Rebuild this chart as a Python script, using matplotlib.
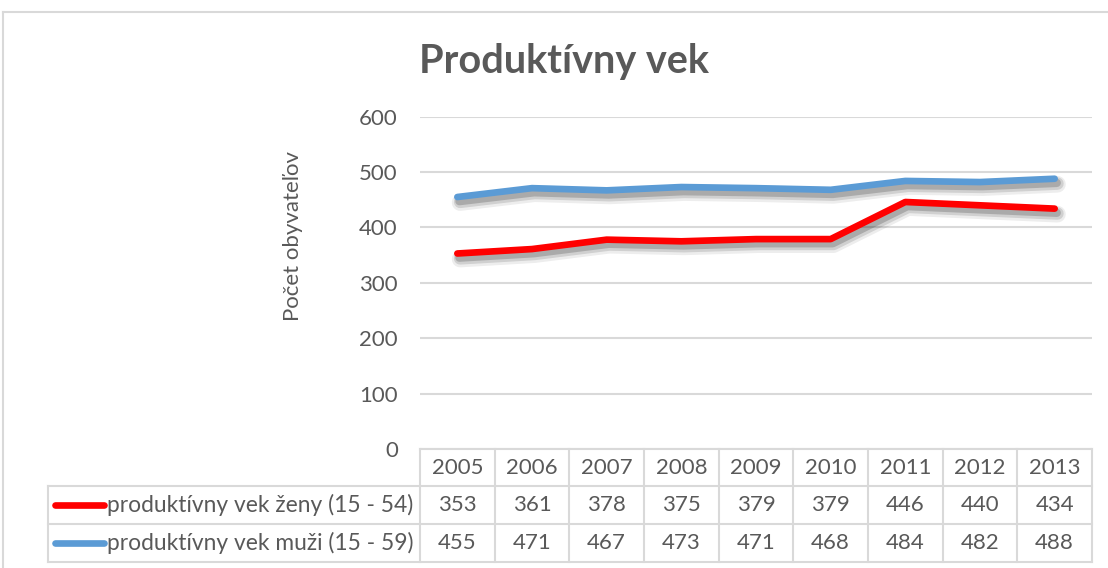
"""Produktívny vek — Excel-style line chart with a data table underneath."""

import matplotlib
matplotlib.use("Agg")
import matplotlib.pyplot as plt
import matplotlib.patheffects as pe

plt.rcParams["font.family"] = ["Lato", "DejaVu Sans"]

# --- data -------------------------------------------------------------------
YEARS = ["2005", "2006", "2007", "2008", "2009", "2010", "2011", "2012", "2013"]
ZENY = [353, 361, 378, 375, 379, 379, 446, 440, 434]
MUZI = [455, 471, 467, 473, 471, 468, 484, 482, 488]
SERIES_LABELS = [
    "produktívny vek ženy (15 - 54)",
    "produktívny vek muži (15 - 59)",
]
Y_TICKS = [0, 100, 200, 300, 400, 500, 600]

TITLE = "Produktívny vek"
Y_LABEL = "Počet obyvateľov"

# --- style ------------------------------------------------------------------
RED = "#ff0000"
BLUE = "#5b9bd5"
TEXT = "#595959"
GRID = "#d9d9d9"
FS = 16

W, H = 1108, 568
PLOT_L, PLOT_R = 420, 1092
PLOT_T, PLOT_B = 116.7, 449
ROW_Y = [449, 486, 524, 562]   # table row boundaries (px from top)
LEGEND_L = 48


def fig_rect(left, top, right, bottom):
    return [left / W, 1 - bottom / H, (right - left) / W, (bottom - top) / H]


fig = plt.figure(figsize=(W / 100, H / 100), dpi=100)
fig.patch.set_facecolor("white")

# overlay in pixel coordinates for border + data table
ov = fig.add_axes([0, 0, 1, 1], zorder=0)
ov.set_xlim(0, W)
ov.set_ylim(H, 0)
ov.set_axis_off()
ov.patch.set_alpha(0)

ax = fig.add_axes(fig_rect(PLOT_L, PLOT_T, PLOT_R, PLOT_B), zorder=1)
ax.patch.set_alpha(0)

x = list(range(len(YEARS)))
# soft Excel-like outer shadow: a few widening, fading copies
shadow = [
    pe.SimpleLineShadow(offset=(2, -4), shadow_color="black", alpha=0.07,
                        linewidth=12),
    pe.SimpleLineShadow(offset=(2, -3.5), shadow_color="black", alpha=0.12,
                        linewidth=9),
    pe.SimpleLineShadow(offset=(1.5, -3), shadow_color="black", alpha=0.18,
                        linewidth=6),
    pe.Normal(),
]
for vals, color in [(MUZI, BLUE), (ZENY, RED)]:
    ax.plot(x, vals, color=color, linewidth=4.8, solid_capstyle="round",
            solid_joinstyle="round", path_effects=shadow, zorder=3)

ax.set_xlim(-0.5, len(YEARS) - 0.5)
ax.set_ylim(0, 600)
ax.set_yticks(Y_TICKS)
ax.set_xticks([])
ax.tick_params(axis="y", length=0, pad=16, labelsize=FS, labelcolor=TEXT)
ax.grid(axis="y", color=GRID, linewidth=1.5)
ax.set_axisbelow(True)
for s in ax.spines.values():
    s.set_visible(False)

# title and axis label
fig.text(564 / W, 1 - 62 / H, TITLE, ha="center", va="center",
         fontsize=28.5, fontweight="bold", color=TEXT)
fig.text(293 / W, 1 - 236 / H, Y_LABEL, ha="center", va="center",
         rotation=90, fontsize=FS, color=TEXT)

# chart border (right and bottom fall outside the picture)
ov.plot([3, W], [12, 12], color=GRID, linewidth=1.5)
ov.plot([3, 3], [12, H], color=GRID, linewidth=1.5)

# data table
col_w = (PLOT_R - PLOT_L) / len(YEARS)
ov.plot([PLOT_L, PLOT_R], [ROW_Y[0]] * 2, color=GRID, linewidth=1.5)
for yy in ROW_Y[1:]:
    ov.plot([LEGEND_L, PLOT_R], [yy, yy], color=GRID, linewidth=1.5)
for i in range(len(YEARS) + 1):
    xx = PLOT_L + i * col_w
    ov.plot([xx, xx], [ROW_Y[0], ROW_Y[-1]], color=GRID, linewidth=1.5)
ov.plot([LEGEND_L] * 2, [ROW_Y[1], ROW_Y[-1]], color=GRID, linewidth=1.5)

rows = [YEARS, [str(v) for v in ZENY], [str(v) for v in MUZI]]
for r, row in enumerate(rows):
    yc = (ROW_Y[r] + ROW_Y[r + 1]) / 2
    for i, txt in enumerate(row):
        ov.text(PLOT_L + (i + 0.5) * col_w, yc, txt, ha="center",
                va="center", fontsize=FS, color=TEXT)

for r, (label, color) in enumerate(zip(SERIES_LABELS, [RED, BLUE])):
    yc = (ROW_Y[r + 1] + ROW_Y[r + 2]) / 2
    ov.plot([55, 104], [yc, yc], color=color, linewidth=4.8,
            solid_capstyle="round")
    ov.text(107, yc, label, ha="left", va="center", fontsize=16.4, color=TEXT)

fig.savefig("out.png", dpi=100, facecolor="white")
